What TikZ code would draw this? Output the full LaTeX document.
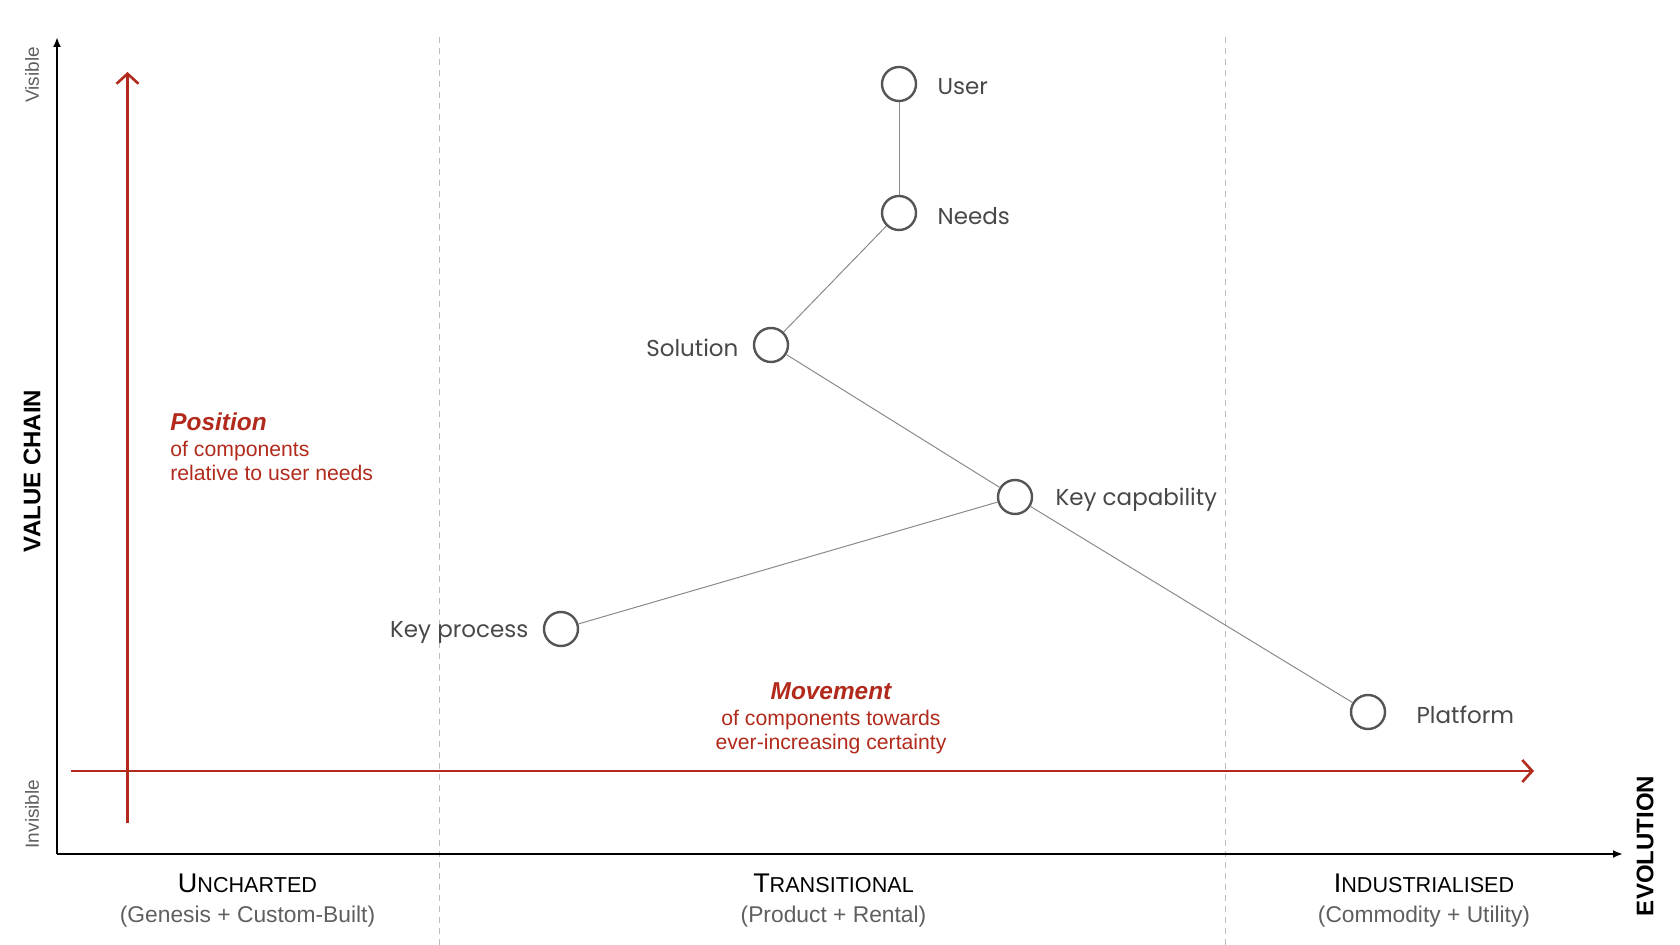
\documentclass[tikz,border=0pt]{standalone}
\usepackage{fontspec}
\setmainfont{Liberation Sans}
\newfontfamily\handfont{Poppins}
\usetikzlibrary{arrows.meta, positioning}
\definecolor{MapRed}{HTML}{B12A1C}
\definecolor{MapInk}{HTML}{555555}
\definecolor{MapLine}{HTML}{8A8A8A}
\definecolor{MapGrid}{HTML}{BDBDBD}
\definecolor{MapNote}{HTML}{5F5F5F}
\newcommand\smcap[2]{#1{\fontsize{10.8}{13}\selectfont #2}}
\tikzset{
  comp/.style={circle, draw=MapInk, line width=1.2pt, fill=white,
    minimum size=17pt, inner sep=0pt},
  tag/.style={font=\handfont\fontsize{11.5}{13}\selectfont, text=MapInk!85!black,
    inner sep=0pt, yshift=-1.5pt},
  link/.style={draw=MapLine, line width=0.5pt},
  axis/.style={-{Latex[length=5pt, width=4pt]}, line width=1pt},
  trend/.style={-{Straight Barb[length=5pt, width=11pt]}, line width=1.3pt, draw=MapRed},
  zone/.style={draw=MapGrid, line width=0.5pt, dash pattern=on 3pt off 2.5pt},
  stage/.style={align=center, inner sep=0pt, font=\fontsize{13.5}{16}\selectfont},
  stagesub/.style={align=center, inner sep=0pt, text=MapNote, font=\fontsize{11.4}{14}\selectfont},
  note/.style={inner sep=0pt, text=MapRed, font=\fontsize{10.6}{12.2}\selectfont},
  side/.style={rotate=90, inner sep=0pt, text=MapNote, font=\fontsize{9.5}{11}\selectfont},
  title/.style={rotate=90, inner sep=0pt, font=\bfseries\fontsize{12}{14}\selectfont},
}

\begin{document}
\begin{tikzpicture}[x=0.5pt, y=-0.5pt]
    \useasboundingbox (0,0) rectangle (1680,945);
    % stage borders
    \draw[zone] (439,37) -- (439,945);
    \draw[zone] (1225,37) -- (1225,945);
    % axes
    \coordinate (origin) at (57,854);
    \coordinate (ytop) at (57,37);
    \coordinate (xend) at (1623,854);
    \draw[axis] (origin) -- (ytop);
    \draw[axis] (origin) -- (xend);
    \node[side] (visible) at (32,75) {Visible};
    \node[side] (invisible) at (32,814) {Invisible};
    \node[title] (valuechain) at (32,471) {VALUE CHAIN};
    \node[title] (evolution) at (1645,846) {EVOLUTION};
    % red trends
    \coordinate (vlow) at (127.5,823);
    \coordinate (vhigh) at (127.5,72);
    \coordinate (hleft) at (71,771);
    \coordinate (hright) at (1534,771);
    \draw[trend] (vlow) -- (vhigh);
    \draw[trend] (hleft) -- (hright);
    \node[note, anchor=north west, align=left] (position) at (170,412)
      {{\bfseries\itshape\fontsize{12.2}{14}\selectfont Position}\\[1pt]
       of components\\relative to user needs};
    \node[note, anchor=north, align=center] (movement) at (831,682)
      {{\bfseries\itshape\fontsize{12.2}{14}\selectfont Movement}\\[1pt]
       of components towards\\ever-increasing certainty};
    % components
    \node[comp] (user) at (899,84) {};
    \node[comp] (needs) at (899,213) {};
    \node[comp] (solution) at (771,345) {};
    \node[comp] (keycap) at (1015,497) {};
    \node[comp] (keyproc) at (561,629) {};
    \node[comp] (platform) at (1368,712) {};
    \node[tag, right=10pt of user] (userlbl) {User};
    \node[tag, right=10pt of needs] (needslbl) {Needs};
    \node[tag, left=7pt of solution] (solutionlbl) {Solution};
    \node[tag, right=11pt of keycap] (keycaplbl) {Key capability};
    \node[tag, left=7pt of keyproc] (keyproclbl) {Key process};
    \node[tag, right=15pt of platform] (platformlbl) {Platform};
    \draw[link] (user) -- (needs);
    \draw[link] (needs) -- (solution);
    \draw[link] (solution) -- (keycap);
    \draw[link] (keycap) -- (keyproc);
    \draw[link] (keycap) -- (platform);
    % stages
    \node[stage] (uncharted) at (247.5,883) {\smcap{U}{NCHARTED}};
    \node[stagesub] (unchartedsub) at (247.5,917) {(Genesis + Custom-Built)};
    \node[stage] (transitional) at (833.5,883) {\smcap{T}{RANSITIONAL}};
    \node[stagesub] (transitionalsub) at (833.5,917) {(Product + Rental)};
    \node[stage] (industrial) at (1424,883) {\smcap{I}{NDUSTRIALISED}};
    \node[stagesub] (industrialsub) at (1424,917) {(Commodity + Utility)};
  \end{tikzpicture}
\end{document}
